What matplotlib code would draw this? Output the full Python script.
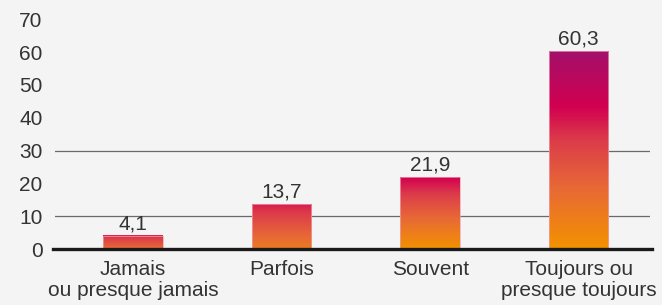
import matplotlib.pyplot as plt
import numpy as np
from matplotlib.colors import LinearSegmentedColormap

categories = ["Jamais\nou presque jamais", "Parfois", "Souvent", "Toujours ou\npresque toujours"]
values = [4.1, 13.7, 21.9, 60.3]
value_labels = ["4,1", "13,7", "21,9", "60,3"]
yticks = [0, 10, 20, 30, 40, 50, 60, 70]
gridlines = [10, 30]

# gradient: orange at the bottom to purple at the top
cmap = LinearSegmentedColormap.from_list("grad", [
    (0.0, "#F39200"), (0.3, "#E86A35"), (0.55, "#DC3C4A"),
    (0.72, "#D20050"), (1.0, "#A3106A")])
# part of the gradient each bar uses (bottom, top)
grad_range = [(0.28, 0.62), (0.18, 0.64), (0.0, 0.72), (0.0, 1.0)]

bg = "#F4F4F4"
txt = "#333333"
fs = 15
plt.rcParams['font.family'] = ['Liberation Sans', 'DejaVu Sans']

fig = plt.figure(figsize=(6.62, 3.05), dpi=100, facecolor=bg)
ax = fig.add_axes([0.083, 0.1836, 0.899, 0.775], facecolor=bg)

x = np.arange(len(values))
w = 0.40
for gy in gridlines:
    ax.axhline(gy, color="#6a6a6a", lw=0.9, zorder=1)

for i, v in enumerate(values):
    lo, hi = grad_range[i]
    grad = np.linspace(lo, hi, 200).reshape(-1, 1)
    ax.imshow(grad, cmap=cmap, vmin=0, vmax=1, origin="lower", aspect="auto",
              extent=[x[i] - w / 2, x[i] + w / 2, 0, v], zorder=2,
              interpolation="bilinear")
    ax.add_patch(plt.Rectangle((x[i] - w / 2, 0), w, v, fill=False,
                               ec="#F2A0B4", lw=0.5, zorder=3))
    ax.text(x[i], v + 0.7, value_labels[i], ha="center", va="bottom",
            fontsize=fs, color=txt)

ax.axhline(0, color="#1a1a1a", lw=2.4, zorder=4, xmin=-0.004, xmax=1.004,
           clip_on=False)

ax.set_xlim(-0.525, 3.48)
ax.set_ylim(0, 72)
ax.set_yticks(yticks)
ax.set_yticklabels([str(t) for t in yticks], fontsize=fs, color=txt)
ax.set_xticks(x)
ax.set_xticklabels(categories, fontsize=fs, color=txt, linespacing=1.1)
ax.tick_params(axis="y", length=0, pad=9)
ax.tick_params(axis="x", length=0, pad=8)
for s in ax.spines.values():
    s.set_visible(False)

fig.savefig("out.png", dpi=100, facecolor=bg)
